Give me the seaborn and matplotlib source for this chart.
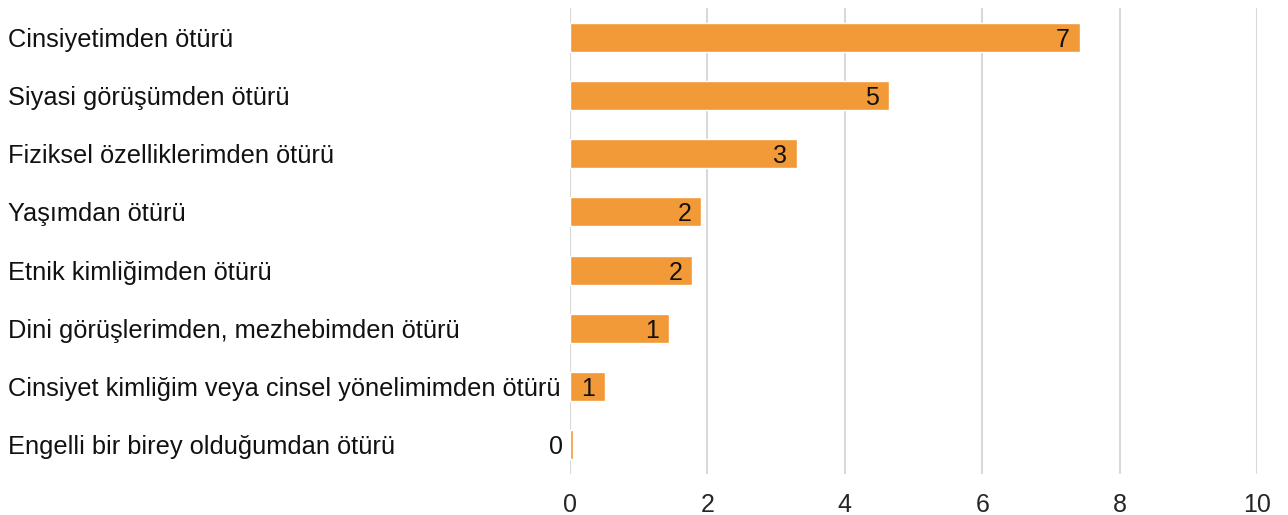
import seaborn as sns
import matplotlib.pyplot as plt
import matplotlib.transforms as mtransforms
import pandas as pd

categories = [
    "Cinsiyetimden ötürü",
    "Siyasi görüşümden ötürü",
    "Fiziksel özelliklerimden ötürü",
    "Yaşımdan ötürü",
    "Etnik kimliğimden ötürü",
    "Dini görüşlerimden, mezhebimden ötürü",
    "Cinsiyet kimliğim veya cinsel yönelimimden ötürü",
    "Engelli bir birey olduğumdan ötürü",
]
values = [7.42, 4.64, 3.30, 1.91, 1.78, 1.44, 0.51, 0.04]
x_ticks = [0, 2, 4, 6, 8, 10]

df = pd.DataFrame({"kategori": categories, "deger": values})

sns.set_style("white")
plt.rcParams['font.family'] = ['Liberation Sans', 'DejaVu Sans']

fig = plt.figure(figsize=(12.88, 5.15), dpi=100)
ax = fig.add_axes([570 / 1288, 1 - 474 / 515, 687 / 1288, 466 / 515])

sns.barplot(data=df, x="deger", y="kategori", orient="h", color="#F29A38",
            saturation=1, width=0.5, ax=ax)

ax.set_xlim(0, 10)
ax.set_ylim(len(categories) - 0.5, -0.5)
ax.set_xticks(x_ticks)
ax.set_xticklabels([str(t) for t in x_ticks], fontsize=18)
ax.tick_params(axis="x", length=0, pad=14)
ax.set_yticks([])
ax.set_xlabel("")
ax.set_ylabel("")
for s in ax.spines.values():
    s.set_visible(False)
ax.grid(axis="x", color="#d9d9d9", linewidth=1.5)
ax.set_axisbelow(True)

# category labels left aligned at figure edge
trans = mtransforms.blended_transform_factory(fig.transFigure, ax.transData)
for i, c in enumerate(categories):
    ax.text(8 / 1288, i, c, transform=trans, ha="left", va="center_baseline",
            fontsize=18.3, color="#111111")

# value labels
for i, v in enumerate(values):
    lbl = str(int(round(v)))
    if v * 68.7 > 25:
        ax.annotate(lbl, (v, i), xytext=(-7, 0), textcoords="offset points",
                    ha="right", va="center_baseline", fontsize=18, color="#111111")
    else:
        ax.annotate(lbl, (0, i), xytext=(-5, 0), textcoords="offset points",
                    ha="right", va="center_baseline", fontsize=18, color="#111111")

plt.savefig("out.png", dpi=100)
plt.close()
